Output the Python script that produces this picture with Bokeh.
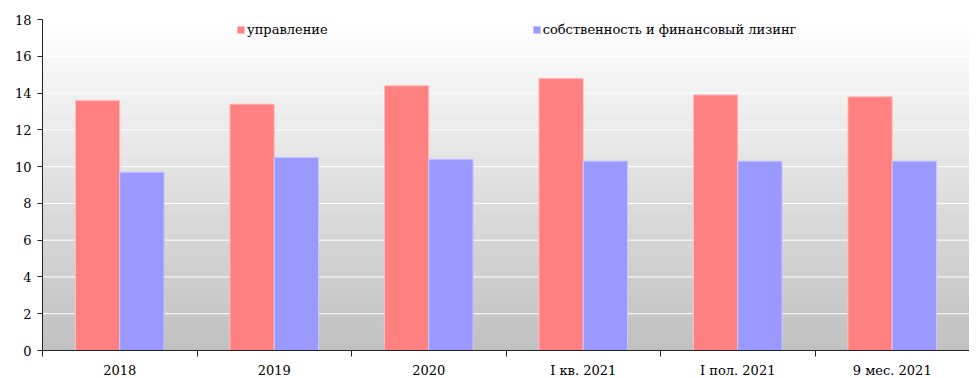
from bokeh.plotting import figure
from bokeh.models import Range1d, FixedTicker
from bokeh.embed import file_html
from bokeh.resources import INLINE

categories = ["2018", "2019", "2020", "I кв. 2021", "I пол. 2021", "9 мес. 2021"]
upravlenie = [13.6, 13.4, 14.4, 14.8, 13.9, 13.8]
sobstvennost = [9.7, 10.5, 10.4, 10.3, 10.3, 10.3]
series_names = ["управление", "собственность и финансовый лизинг"]
y_ticks = [0, 2, 4, 6, 8, 10, 12, 14, 16, 18]

FONT = "DejaVu Serif"
FSIZE = "13px"
n = len(categories)
ymax = y_ticks[-1]

p = figure(frame_width=927, frame_height=331, output_backend="svg", toolbar_location=None,
           x_range=Range1d(0, n), y_range=Range1d(0, ymax))
p.min_border_left = 42
p.min_border_top = 19
p.min_border_right = 0
p.min_border_bottom = 0
p.outline_line_color = None
p.background_fill_color = "white"
p.border_fill_color = "white"

# vertical gradient background (white at top to grey at bottom)
steps = 110
bottoms, tops, colors = [], [], []
for k in range(steps):
    b = ymax * k / steps
    t = ymax * (k + 1) / steps
    frac = (k + 0.5) / steps
    c = int(round(192 + (255 - 192) * frac))
    bottoms.append(b)
    tops.append(t)
    colors.append("#%02x%02x%02x" % (c, c, c))
p.quad(left=0, right=n, bottom=bottoms, top=tops, fill_color=colors, line_color=colors,
       line_width=1)

p.xgrid.visible = False
p.ygrid.visible = False
for yv in y_ticks[1:-1]:
    p.segment(x0=0, x1=n, y0=yv, y1=yv, line_color="white", line_width=1)

w = 0.287
x_red = [i + 0.5 - w / 2 for i in range(n)]
x_blue = [i + 0.5 + w / 2 for i in range(n)]
p.vbar(x=x_red, top=upravlenie, width=w, fill_color="#FF8080",
       line_color="#FFC0C0", line_width=1, legend_label=series_names[0])
p.vbar(x=x_blue, top=sobstvennost, width=w, fill_color="#9999FF",
       line_color="#C8C8FF", line_width=1, legend_label=series_names[1])

p.yaxis.ticker = FixedTicker(ticks=y_ticks)
p.yaxis.minor_tick_line_color = None
p.yaxis.major_tick_in = 0
p.yaxis.major_tick_out = 5
p.yaxis.major_label_text_font = FONT
p.yaxis.major_label_text_font_size = FSIZE
p.yaxis.major_label_text_color = "black"
p.yaxis.axis_line_color = "#222222"
p.yaxis.major_tick_line_color = "#222222"
p.yaxis.major_label_standoff = 6

centers = [i + 0.5 for i in range(n)]
p.xaxis.ticker = FixedTicker(ticks=centers, minor_ticks=list(range(n + 1)))
p.xaxis.major_label_overrides = {c: lab for c, lab in zip(centers, categories)}
p.xaxis.major_tick_line_color = None
p.xaxis.major_tick_in = 0
p.xaxis.major_tick_out = 6
p.xaxis.minor_tick_in = 0
p.xaxis.minor_tick_out = 6
p.xaxis.minor_tick_line_color = "#222222"
p.xaxis.axis_line_color = "#222222"
p.xaxis.major_label_text_font = FONT
p.xaxis.major_label_text_font_size = FSIZE
p.xaxis.major_label_text_color = "black"
p.xaxis.major_label_standoff = 6

lg = p.legend[0]
lg.orientation = "horizontal"
lg.location = (194, 313)
lg.background_fill_alpha = 0
lg.border_line_color = None
lg.glyph_width = 9
lg.glyph_height = 9
lg.label_text_font = FONT
lg.label_text_font_size = FSIZE
lg.label_text_color = "black"
lg.spacing = 204
lg.padding = 0
lg.margin = 0
lg.label_standoff = 2

open("out.html", "w").write(file_html(p, INLINE))
